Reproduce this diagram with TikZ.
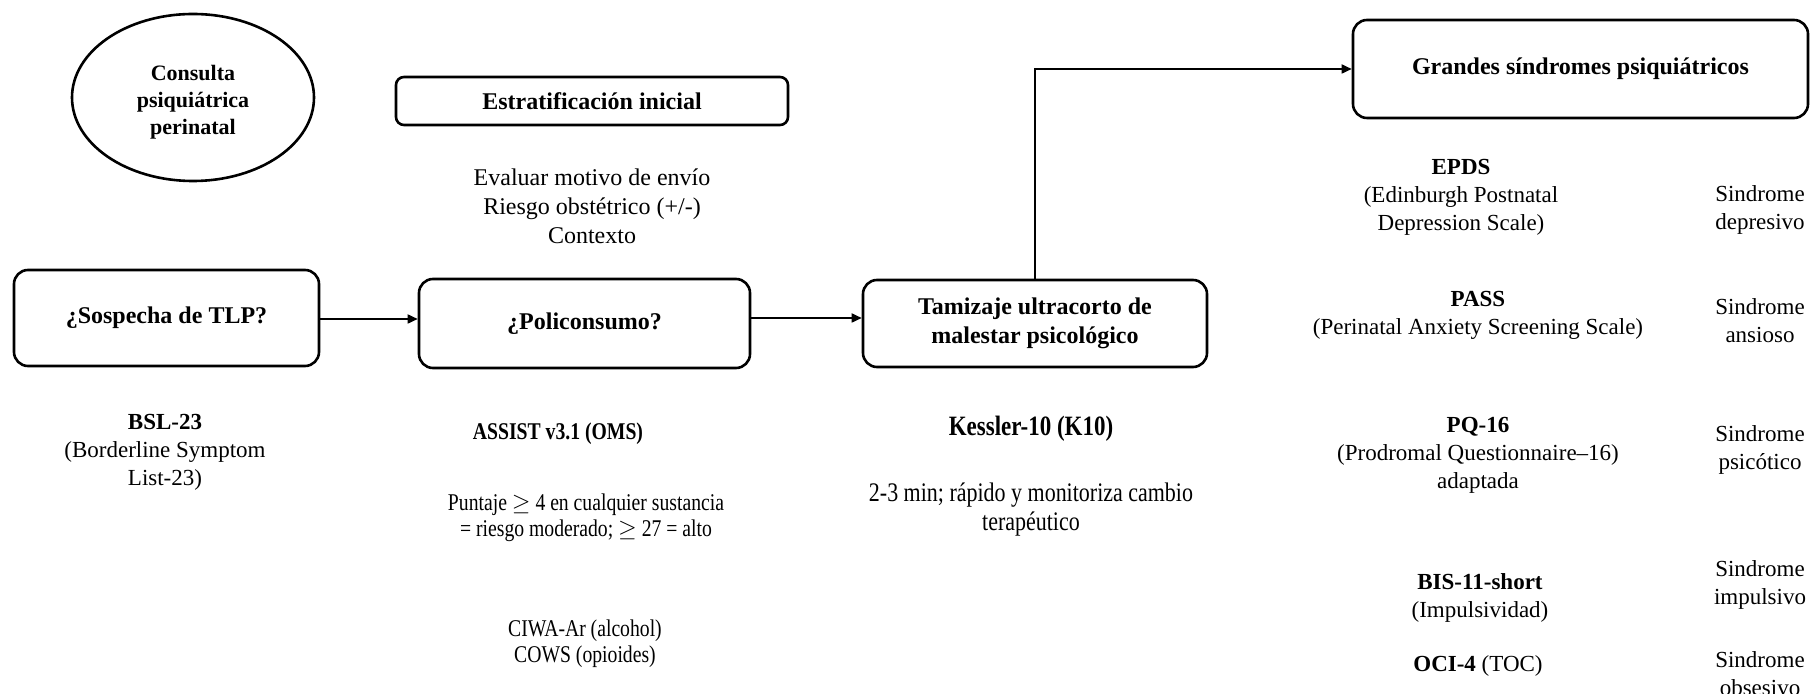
\documentclass[tikz,border=0pt]{standalone}
\usepackage{fontspec}
\setmainfont{Liberation Serif}
\newfontfamily\narrowserif{Liberation Serif}[FakeStretch=0.82]
\usetikzlibrary{shapes.geometric,arrows.meta}
\begin{document}
\begin{tikzpicture}[x=0.5pt,y=-0.5pt,
  stepbox/.style={draw,line width=1.3pt,rounded corners=7pt,align=center,
    font=\fontsize{12}{14.5}\selectfont\bfseries,inner sep=0pt},
  txt/.style={align=center,font=\fontsize{11.5}{14}\selectfont,inner sep=0pt},
  ntxt/.style={align=center,font=\fontsize{12}{13}\narrowserif,inner sep=0pt},
  link/.style={line width=0.85pt,-{Triangle[length=5pt,width=4.5pt]}}]
\useasboundingbox (0,0) rectangle (1810,694);

% main flow boxes
\node[draw,ellipse,line width=1.3pt,minimum width=121pt,minimum height=83.5pt,
  inner sep=0pt] (ell) at (193,97.5) {};
\node[align=center,inner sep=0pt,font=\fontsize{11}{13.5}\selectfont\bfseries]
  (ellt) at ([yshift=-2.5pt]ell.center) {Consulta\\psiquiátrica\\perinatal};
\node[stepbox,rounded corners=4pt,minimum width=196pt,minimum height=24pt]
  (estr) at (592,101) {Estratificación inicial};
\node[stepbox,minimum width=152.5pt,minimum height=48pt]
  (sosp) at (166.5,318) {¿Sospecha de TLP?};
\node[stepbox,minimum width=165.5pt,minimum height=44.5pt]
  (poli) at (584.5,323.5) {¿Policonsumo?};
\node[stepbox,minimum width=172pt,minimum height=43.5pt]
  (tami) at (1035,323.5) {Tamizaje ultracorto de\\malestar psicológico};
\node[stepbox,minimum width=227.5pt,minimum height=49pt]
  (gran) at (1580.5,69) {Grandes síndromes psiquiátricos};

% connectors
\coordinate (row1) at (0,319);
\coordinate (row2) at (0,318);
\draw[link] (sosp.east |- row1) -- (poli.west |- row1);
\draw[link] (poli.east |- row2) -- (tami.west |- row2);
\draw[link] (tami.north) |- (gran.west);

% initial stratification notes
\node[txt,font=\fontsize{12}{14.5}\selectfont] (notes) at (592,206)
  {Evaluar motivo de envío\\Riesgo obstétrico (+/-)\\Contexto};

% instruments under the flow boxes
\node[txt] (bsl) at (165,452) {\textbf{BSL-23}\\(Borderline Symptom\\List-23)};
\node[ntxt,font=\fontsize{12}{13}\narrowserif\bfseries] (assist) at (558,434) {ASSIST v3.1 (OMS)};
\node[ntxt] (punt) at (586,518) {Puntaje $\geq$ 4 en cualquier sustancia\\= riesgo moderado; $\geq$ 27 = alto};
\node[ntxt] (ciwa) at (585,644) {CIWA-Ar (alcohol)\\COWS (opioides)};
\node[ntxt,font=\fontsize{14}{15}\narrowserif\bfseries] (k10) at (1031,429) {Kessler-10 (K10)};
\node[ntxt,font=\fontsize{13.4}{14.5}\narrowserif] (k10d) at (1031,510) {2-3 min; rápido y monitoriza cambio\\terapéutico};

% screening scales and syndromes
\node[txt] (epds) at (1461,197) {\textbf{EPDS}\\(Edinburgh Postnatal\\Depression Scale)};
\node[txt] (pass) at (1478,315) {\textbf{PASS}\\(Perinatal Anxiety Screening Scale)};
\node[txt] (pq) at (1478,455) {\textbf{PQ-16}\\(Prodromal Questionnaire–16)\\adaptada};
\node[txt] (bis) at (1480,598) {\textbf{BIS-11-short}\\(Impulsividad)};
\node[txt] (oci) at (1478,666) {\textbf{OCI-4} (TOC)};
\node[txt] (sdep) at (1760,210) {Sindrome\\depresivo};
\node[txt] (sans) at (1760,321) {Sindrome\\ansioso};
\node[txt] (spsi) at (1760,450) {Sindrome\\psicótico};
\node[txt] (simp) at (1760,585) {Sindrome\\impulsivo};
\node[txt] (sobs) at (1760,674) {Sindrome\\obsesivo};
\end{tikzpicture}
\end{document}
